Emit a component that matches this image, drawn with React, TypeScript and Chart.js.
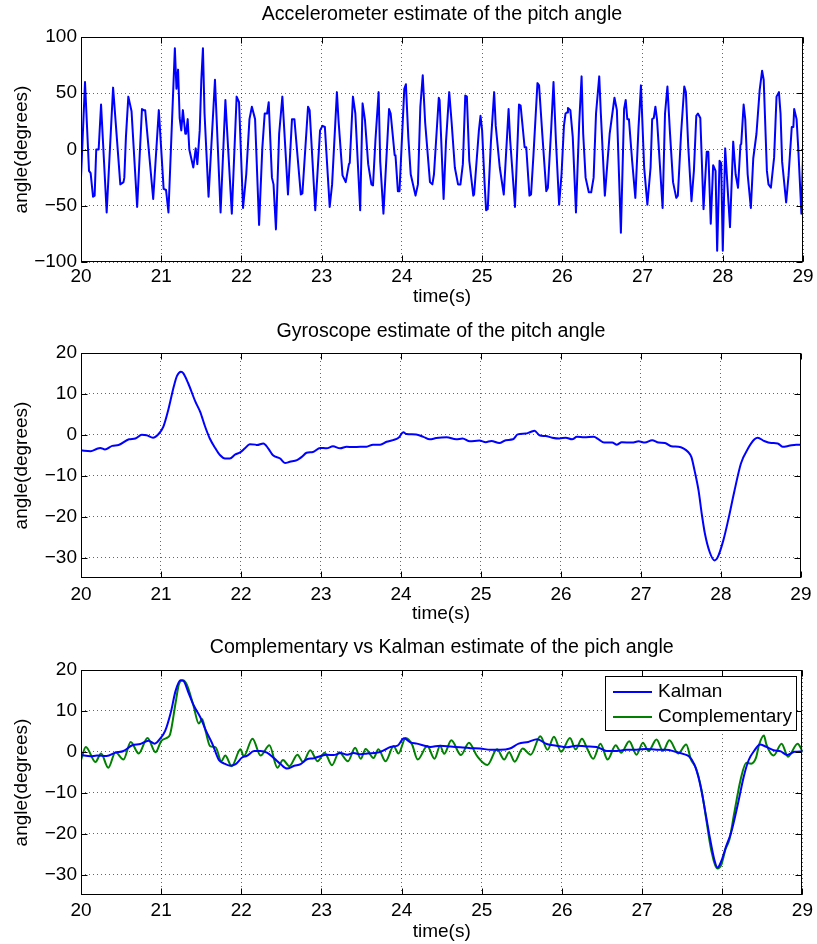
import React, { useEffect, useRef } from 'react';
import { Chart, registerables } from 'chart.js';

Chart.register(...registerables);

const FONT = "'Liberation Sans', Arial, Helvetica, sans-serif";

// ---------- axis ticks ----------
const timeTicks = [20, 21, 22, 23, 24, 25, 26, 27, 28, 29];
const accelTicks = [-100, -50, 0, 50, 100];
const angleTicks = [-30, -20, -10, 0, 10, 20];

// ---------- titles / labels ----------
const accelTitle = 'Accelerometer estimate of the pitch angle';
const gyroTitle = 'Gyroscope estimate of the pitch angle';
const compareTitle = 'Complementary vs Kalman estimate of the pich angle';
const xLabel = 'time(s)';
const yLabel = 'angle(degrees)';
const kalmanLabel = 'Kalman';
const compLabel = 'Complementary';

// ---------- accelerometer estimate ----------
const accelTime = [
  20.00, 20.05, 20.10, 20.12, 20.15, 20.17, 20.19, 20.22, 20.25, 20.32,
  20.40, 20.49, 20.53, 20.54, 20.56, 20.59, 20.63, 20.70, 20.71, 20.76,
  20.78, 20.80, 20.90, 20.97, 21.03, 21.06, 21.09, 21.17, 21.19, 21.21,
  21.23, 21.25, 21.27, 21.30, 21.31, 21.33, 21.35, 21.40, 21.43, 21.45,
  21.48, 21.50, 21.52, 21.54, 21.59, 21.67, 21.74, 21.80, 21.88, 21.94,
  21.97, 22.02, 22.06, 22.10, 22.13, 22.17, 22.22, 22.26, 22.29, 22.32,
  22.34, 22.38, 22.40, 22.43, 22.47, 22.51, 22.58, 22.63, 22.66, 22.74,
  22.76, 22.83, 22.85, 22.92, 22.98, 23.01, 23.04, 23.10, 23.13, 23.19,
  23.21, 23.26, 23.30, 23.34, 23.35, 23.39, 23.42, 23.48, 23.51, 23.54,
  23.58, 23.62, 23.64, 23.67, 23.71, 23.73, 23.77, 23.84, 23.86, 23.91,
  23.92, 23.95, 23.97, 24.03, 24.05, 24.08, 24.11, 24.17, 24.20, 24.23,
  24.26, 24.29, 24.35, 24.38, 24.40, 24.46, 24.47, 24.52, 24.55, 24.59,
  24.62, 24.66, 24.70, 24.73, 24.76, 24.79, 24.81, 24.84, 24.89, 24.90,
  24.96, 24.98, 25.00, 25.03, 25.05, 25.07, 25.11, 25.15, 25.17, 25.22,
  25.27, 25.33, 25.35, 25.41, 25.46, 25.48, 25.53, 25.55, 25.59, 25.61,
  25.64, 25.69, 25.71, 25.75, 25.80, 25.82, 25.86, 25.89, 25.92, 25.96,
  25.99, 26.02, 26.04, 26.06, 26.07, 26.10, 26.13, 26.17, 26.21, 26.24,
  26.26, 26.29, 26.33, 26.36, 26.39, 26.42, 26.46, 26.48, 26.53, 26.59,
  26.65, 26.68, 26.73, 26.77, 26.79, 26.81, 26.83, 26.87, 26.91, 26.95,
  26.98, 27.02, 27.06, 27.10, 27.12, 27.14, 27.16, 27.18, 27.25, 27.28,
  27.31, 27.34, 27.38, 27.42, 27.44, 27.48, 27.52, 27.54, 27.57, 27.61,
  27.64, 27.67, 27.69, 27.72, 27.76, 27.80, 27.82, 27.85, 27.88, 27.89,
  27.91, 27.93, 27.96, 27.98, 28.00, 28.03, 28.09, 28.13, 28.16, 28.19,
  28.22, 28.23, 28.26, 28.28, 28.31, 28.35, 28.38, 28.42, 28.46, 28.49,
  28.51, 28.55, 28.57, 28.60, 28.64, 28.67, 28.70, 28.72, 28.74, 28.79,
  28.82, 28.86, 28.88, 28.89, 28.92, 28.94, 28.98, 29.00,
];
const accelAngle = [
  -25, 60, -19, -21, -42, -41, 0, 0, 40, -56,
  55, -31, -29, -25, 11, 47, 34, -51, -51, 36,
  35, 35, -44, 35, -35, -36, -56, 90, 54, 71,
  28, 17, 35, 14, 14, 27, 0, -16, 1, -13,
  17, 62, 90, 32, -42, 62, -56, 44, -57, 47,
  42, -52, -22, 27, 38, 27, -67, 1, 32, 32,
  42, -25, -31, -71, 14, 47, -40, 27, 27, -40,
  -39, 38, 35, -54, 17, 21, 20, -51, -31, 51,
  26, -23, -29, -13, -12, 47, 32, -54, 41, 26,
  -13, -31, -32, 8, 51, -11, -57, 36, 32, -5,
  -5, -37, -37, 54, 58, 11, -22, -41, -31, 38,
  66, 24, -29, -31, -22, 46, 44, -44, 7, 51,
  24, -16, -31, -31, -13, 48, 47, -10, -41, -40,
  17, 30, 17, -29, -54, -53, 7, 51, 21, -16,
  -40, 36, 8, -51, 40, 39, 2, 2, -41, -40,
  -5, 59, 57, 14, -37, -34, 17, 60, 8, -49,
  -22, 21, 32, 33, 37, 35, 11, -56, 23, 65,
  14, -25, -38, -38, -25, 32, 65, 32, -41, 14,
  46, 35, -74, 36, 44, 27, 27, -10, -43, 20,
  57, -16, -49, -16, 27, 28, 38, 27, -52, 32,
  56, 17, -29, -43, -41, 14, 56, 51, 2, -46,
  -19, 30, 32, 28, -53, -2, -2, -66, -14, -14,
  -19, -90, -10, -12, -90, 1, -69, 7, -22, -34,
  4, 5, 40, 27, -22, -52, -8, 14, 53, 70,
  62, -19, -31, -34, -7, 47, 51, 32, -11, -47,
  -23, 20, 20, 36, 27, 2, -57, -7,
];

// ---------- gyroscope estimate ----------
const gyroTime = [
  20.00, 20.12, 20.20, 20.24, 20.30, 20.39, 20.47, 20.60, 20.68, 20.76,
  20.82, 20.90, 20.97, 21.03, 21.09, 21.16, 21.20, 21.25, 21.28, 21.34,
  21.43, 21.49, 21.55, 21.61, 21.68, 21.74, 21.80, 21.86, 21.93, 21.99,
  22.05, 22.11, 22.18, 22.20, 22.28, 22.34, 22.40, 22.49, 22.55, 22.61,
  22.70, 22.76, 22.82, 22.90, 22.99, 23.07, 23.15, 23.24, 23.32, 23.40,
  23.49, 23.57, 23.65, 23.74, 23.82, 23.90, 23.97, 24.03, 24.07, 24.19,
  24.28, 24.36, 24.44, 24.57, 24.69, 24.77, 24.86, 24.98, 25.06, 25.13,
  25.23, 25.31, 25.40, 25.46, 25.56, 25.62, 25.67, 25.73, 25.81, 25.89,
  25.98, 26.06, 26.14, 26.20, 26.29, 26.41, 26.47, 26.54, 26.64, 26.70,
  26.76, 26.89, 26.97, 27.05, 27.14, 27.22, 27.30, 27.38, 27.47, 27.53,
  27.59, 27.63, 27.67, 27.72, 27.76, 27.80, 27.86, 27.92, 27.96, 28.03,
  28.09, 28.17, 28.25, 28.34, 28.42, 28.46, 28.54, 28.63, 28.71, 28.77,
  28.85, 28.94, 29.00,
];
const gyroAngle = [
  -3.8, -4.0, -3.4, -3.2, -3.6, -2.7, -2.5, -1.1, -0.9, 0,
  -0.1, -0.7, 0.2, 2.0, 6.0, 11.8, 14.4, 15.4, 15.0, 12.6,
  8.1, 5.6, 2.1, -0.9, -3.3, -5.0, -5.8, -5.8, -4.8, -4.3,
  -3.3, -2.3, -2.4, -2.5, -2.1, -3.3, -5.0, -5.8, -6.9, -6.6,
  -6.2, -5.4, -4.4, -4.2, -3.2, -3.3, -2.8, -3.3, -2.9, -3.0,
  -2.9, -2.9, -2.4, -2.4, -1.7, -1.3, -0.7, 0.6, 0.2, 0.1,
  -0.5, -1.1, -0.8, -0.6, -1.1, -0.9, -1.6, -1.4, -1.8, -1.5,
  -2.0, -1.3, -1.1, 0.1, 0.3, 0.7, 1.0, -0.1, -0.3, -0.7,
  -0.9, -0.7, -1.1, -0.5, -0.6, -0.5, -1.1, -1.9, -1.9, -2.4,
  -1.8, -1.9, -1.6, -1.9, -1.3, -1.9, -2.0, -2.8, -2.9, -3.3,
  -4.2, -5.4, -8.7, -13.6, -19.3, -24.2, -28.7, -30.7, -29.9, -25.8,
  -20.9, -13.6, -7.0, -3.3, -1.1, -0.7, -1.5, -2.0, -2.1, -2.9,
  -2.7, -2.4, -2.4,
];

// ---------- Kalman estimate ----------
const kalmanTime = [
  20.00, 20.12, 20.20, 20.32, 20.43, 20.53, 20.64, 20.74, 20.84, 20.92,
  20.99, 21.05, 21.12, 21.18, 21.24, 21.28, 21.34, 21.41, 21.49, 21.56,
  21.64, 21.72, 21.78, 21.86, 21.93, 22.01, 22.07, 22.16, 22.24, 22.32,
  22.41, 22.49, 22.57, 22.66, 22.74, 22.82, 22.90, 22.99, 23.07, 23.15,
  23.24, 23.32, 23.40, 23.49, 23.57, 23.70, 23.78, 23.86, 23.95, 24.03,
  24.11, 24.19, 24.36, 24.48, 24.61, 24.73, 24.86, 24.98, 25.11, 25.23,
  25.35, 25.46, 25.58, 25.69, 25.81, 25.93, 26.06, 26.18, 26.31, 26.43,
  26.56, 26.68, 26.80, 26.93, 27.05, 27.18, 27.30, 27.42, 27.51, 27.59,
  27.65, 27.70, 27.75, 27.80, 27.85, 27.90, 27.94, 27.99, 28.05, 28.11,
  28.19, 28.27, 28.33, 28.40, 28.47, 28.54, 28.64, 28.73, 28.81, 28.90,
  29.00,
];
const kalmanAngle = [
  -0.8, -1.1, -0.9, -1.0, -0.2, 0.2, 1.6, 1.9, 2.7, 2.0,
  3.3, 5.1, 9.6, 14.9, 17.5, 17.3, 14.5, 11.2, 8.4, 5.1,
  1.9, -2.0, -2.8, -3.4, -3.0, -1.4, -1.0, 0.2, 0.2, -0.2,
  -1.6, -3.0, -4.1, -3.4, -3.0, -1.8, -1.6, -1.0, -0.7, -0.8,
  -0.3, -0.7, -0.3, -0.6, -0.4, -0.2, 0.4, 1.2, 1.5, 3.3,
  2.3, 2.0, 1.2, 1.5, 1.3, 1.1, 0.9, 0.8, 0.5, 0.5,
  0.8, 2.0, 2.4, 3.1, 1.9, 1.5, 1.1, 1.5, 1.3, 1.2,
  0.2, 0.2, 0.5, 0.5, 0.7, 0.5, 0.5, 0, -0.5, -1.2,
  -3.0, -6.0, -10.5, -16.0, -21.5, -26.3, -28.3, -26.6, -23.0, -19.8,
  -13.2, -5.9, -2.0, 0.3, 1.8, 1.3, 0.4, 0.1, -0.8, 0,
  0.1,
];

// ---------- complementary estimate ----------
const compTime = [
  20.00, 20.06, 20.18, 20.25, 20.34, 20.43, 20.53, 20.62, 20.72, 20.83,
  20.93, 21.00, 21.07, 21.11, 21.18, 21.22, 21.27, 21.32, 21.40, 21.47,
  21.51, 21.55, 21.61, 21.68, 21.75, 21.80, 21.88, 21.99, 22.03, 22.14,
  22.24, 22.35, 22.45, 22.52, 22.60, 22.70, 22.77, 22.86, 22.95, 23.04,
  23.13, 23.22, 23.33, 23.42, 23.49, 23.55, 23.65, 23.71, 23.80, 23.90,
  23.96, 24.05, 24.13, 24.20, 24.32, 24.41, 24.48, 24.53, 24.62, 24.74,
  24.84, 24.94, 25.07, 25.19, 25.28, 25.34, 25.41, 25.51, 25.61, 25.73,
  25.82, 25.90, 25.99, 26.10, 26.17, 26.25, 26.31, 26.39, 26.48, 26.57,
  26.67, 26.74, 26.84, 26.93, 27.01, 27.08, 27.18, 27.26, 27.34, 27.45,
  27.55, 27.61, 27.67, 27.74, 27.80, 27.86, 27.94, 27.99, 28.04, 28.09,
  28.15, 28.23, 28.30, 28.36, 28.42, 28.46, 28.52, 28.55, 28.64, 28.74,
  28.82, 28.94, 29.00,
];
const compAngle = [
  -2.0, 1.2, -2.5, -0.4, -3.9, -0.1, -1.9, 2.4, -0.4, 3.4,
  -0.1, 2.6, 3.4, 4.2, 12.0, 16.4, 17.5, 16.4, 11.5, 6.9,
  8.0, 5.4, 1.4, 1.1, -2.3, -0.9, -3.5, 0.6, -1.1, 3.2,
  -0.9, 1.6, -3.9, -2.0, -3.5, -0.7, -2.5, 0.4, -2.3, -0.2,
  -3.3, -0.1, -2.3, 1.0, -1.7, 0.7, -1.5, 0.6, -2.3, 1.4,
  -0.4, 3.4, 1.8, -1.9, 1.4, -1.7, 1.5, -0.5, 2.8, -0.8,
  2.2, -1.0, -3.2, 0.6, -1.9, -0.1, -2.4, 0.8, -0.7, 3.8,
  0.5, 3.7, 0.0, 3.4, 0.6, 3.2, 1.0, -1.7, 2.0, -1.9,
  1.6, -0.2, 2.6, -0.7, 2.2, 0.2, 3.0, 0.2, 2.8, -0.4,
  1.8, -1.9, -3.9, -9.2, -16.5, -23.8, -28.5, -27.5, -23.8, -21.4,
  -14.9, -6.7, -2.7, -2.9, -1.5, 1.8, 4.0, 1.8, -0.9, 2.0,
  -1.2, 2.0, 0.2,
];

const BLUE = '#0000ff';
const GREEN = '#008000';

const toXY = (xs: number[], ys: number[]) => xs.map((x, i) => ({ x, y: ys[i] }));
const fmt = (v: number) => (v < 0 ? '\u2212' + Math.abs(v) : String(v));

// MATLAB-style box, inner tick marks and boxed legend
const boxPlugin = {
  id: 'matlabBox',
  afterDraw(chart: any, _args: any, opts: any) {
    const { ctx, chartArea: a, scales } = chart;
    ctx.save();
    ctx.strokeStyle = '#000';
    ctx.lineWidth = 1;
    ctx.setLineDash([]);
    const L = Math.round(a.left) + 0.5;
    const R = Math.round(a.right) - 0.5;
    const T = Math.round(a.top) + 0.5;
    const B = Math.round(a.bottom) - 0.5;
    ctx.strokeRect(L, T, R - L, B - T);
    const len = 6;
    ctx.beginPath();
    scales.x.ticks.forEach((t: any) => {
      const px = Math.round(scales.x.getPixelForValue(t.value)) + 0.5;
      ctx.moveTo(px, B); ctx.lineTo(px, B - len);
      ctx.moveTo(px, T); ctx.lineTo(px, T + len);
    });
    scales.y.ticks.forEach((t: any) => {
      const py = Math.round(scales.y.getPixelForValue(t.value)) + 0.5;
      ctx.moveTo(L, py); ctx.lineTo(L + len, py);
      ctx.moveTo(R, py); ctx.lineTo(R - len, py);
    });
    ctx.stroke();

    if (opts && opts.legend) {
      const items = chart.data.datasets;
      ctx.font = `19px ${FONT}`;
      const textW = Math.max(...items.map((d: any) => ctx.measureText(d.label).width));
      const w = Math.round(8 + 39 + 6 + textW + 4);
      const h = 54;
      const right = Math.round(a.right) - 6;
      const top = Math.round(a.top) + 6;
      const left = right - w;
      ctx.fillStyle = '#fff';
      ctx.fillRect(left, top, w, h);
      ctx.strokeStyle = '#000';
      ctx.lineWidth = 1;
      ctx.strokeRect(left + 0.5, top + 0.5, w, h);
      items.forEach((d: any, i: number) => {
        const y = top + 16 + i * 25;
        ctx.strokeStyle = d.borderColor;
        ctx.lineWidth = 2;
        ctx.beginPath();
        ctx.moveTo(left + 8, y);
        ctx.lineTo(left + 47, y);
        ctx.stroke();
        ctx.fillStyle = '#000';
        ctx.textBaseline = 'middle';
        ctx.textAlign = 'left';
        ctx.fillText(d.label, left + 53, y);
      });
    }
    ctx.restore();
  },
};

type Cfg = {
  title: string;
  titlePad: [number, number];
  yMin: number;
  yMax: number;
  yTicks: number[];
  xTickPad: number;
  xTitlePad: number;
  xAxisHeight: number;
  datasets: any[];
  legend: boolean;
};

function makeConfig(p: Cfg): any {
  const font = { family: FONT, size: 19, weight: 'normal' as const };
  const titleFont = { family: FONT, size: 19.6, weight: 'normal' as const, lineHeight: 22.8 / 19.6 };
  const grid = { color: 'rgba(0,0,0,0.6)', lineWidth: 1, drawTicks: false };
  const border = { display: false, dash: [1, 3] };
  return {
    type: 'line',
    data: { datasets: p.datasets },
    plugins: [boxPlugin],
    options: {
      animation: false,
      responsive: false,
      devicePixelRatio: 1,
      layout: { padding: { left: 0, right: 14, top: 0, bottom: 0 } },
      elements: { point: { radius: 0 }, line: { borderJoinStyle: 'round', borderCapStyle: 'round' } },
      plugins: {
        legend: { display: false },
        tooltip: { enabled: false },
        title: {
          display: true,
          text: p.title,
          fullSize: false,
          color: '#000',
          font: titleFont,
          padding: { top: p.titlePad[0], bottom: p.titlePad[1] },
        },
        matlabBox: { legend: p.legend },
      },
      scales: {
        x: {
          type: 'linear',
          min: 20,
          max: 29,
          afterBuildTicks: (s: any) => { s.ticks = timeTicks.map((v) => ({ value: v })); },
          afterFit: (s: any) => { s.height = p.xAxisHeight; },
          ticks: { color: '#000', font, padding: p.xTickPad, maxRotation: 0, autoSkip: false },
          grid,
          border,
          title: { display: true, text: xLabel, color: '#000', font, padding: { top: 0, bottom: p.xTitlePad } },
        },
        y: {
          type: 'linear',
          min: p.yMin,
          max: p.yMax,
          afterBuildTicks: (s: any) => { s.ticks = p.yTicks.map((v) => ({ value: v })); },
          afterFit: (s: any) => { s.width = 81; },
          ticks: { color: '#000', font, padding: 4, autoSkip: false, callback: (v: any) => fmt(Number(v)) },
          grid,
          border,
          title: { display: true, text: yLabel, color: '#000', font, padding: { top: 10.3, bottom: 0 } },
        },
      },
    },
  };
}

export default function App() {
  const r1 = useRef<HTMLCanvasElement>(null);
  const r2 = useRef<HTMLCanvasElement>(null);
  const r3 = useRef<HTMLCanvasElement>(null);

  useEffect(() => {
    const c1 = new Chart(r1.current as HTMLCanvasElement, makeConfig({
      title: accelTitle,
      titlePad: [3.6, 10.6],
      yMin: -100,
      yMax: 100,
      yTicks: accelTicks,
      xTickPad: 3,
      xTitlePad: 1.6,
      xAxisHeight: 48,
      legend: false,
      datasets: [{
        label: 'Accelerometer',
        data: toXY(accelTime, accelAngle),
        borderColor: BLUE,
        borderWidth: 2,
        tension: 0,
        fill: false,
        pointRadius: 0,
      }],
    }));
    const c2 = new Chart(r2.current as HTMLCanvasElement, makeConfig({
      title: gyroTitle,
      titlePad: [10.3, 9.9],
      yMin: -35,
      yMax: 20,
      yTicks: angleTicks,
      xTickPad: 5.5,
      xTitlePad: 1.6,
      xAxisHeight: 49,
      legend: false,
      datasets: [{
        label: 'Gyroscope',
        data: toXY(gyroTime, gyroAngle),
        borderColor: BLUE,
        borderWidth: 2,
        cubicInterpolationMode: 'monotone',
        fill: false,
        pointRadius: 0,
      }],
    }));
    const c3 = new Chart(r3.current as HTMLCanvasElement, makeConfig({
      title: compareTitle,
      titlePad: [9.0, 11.2],
      yMin: -35,
      yMax: 20,
      yTicks: angleTicks,
      xTickPad: 4,
      xTitlePad: 1.1,
      xAxisHeight: 49,
      legend: true,
      datasets: [
        {
          label: kalmanLabel,
          data: toXY(kalmanTime, kalmanAngle),
          borderColor: BLUE,
          borderWidth: 2,
          cubicInterpolationMode: 'monotone',
          fill: false,
          pointRadius: 0,
        },
        {
          label: compLabel,
          data: toXY(compTime, compAngle),
          borderColor: GREEN,
          borderWidth: 2,
          cubicInterpolationMode: 'monotone',
          fill: false,
          pointRadius: 0,
        },
      ],
    }));
    return () => { c1.destroy(); c2.destroy(); c3.destroy(); };
  }, []);

  return (
    <div style={{ position: 'absolute', left: 0, top: 0, width: 817, height: 944, background: '#fff' }}>
      <canvas ref={r1} width={817} height={310} style={{ position: 'absolute', left: 0, top: 0 }} />
      <canvas ref={r2} width={817} height={317} style={{ position: 'absolute', left: 0, top: 310 }} />
      <canvas ref={r3} width={817} height={317} style={{ position: 'absolute', left: 0, top: 627 }} />
    </div>
  );
}
